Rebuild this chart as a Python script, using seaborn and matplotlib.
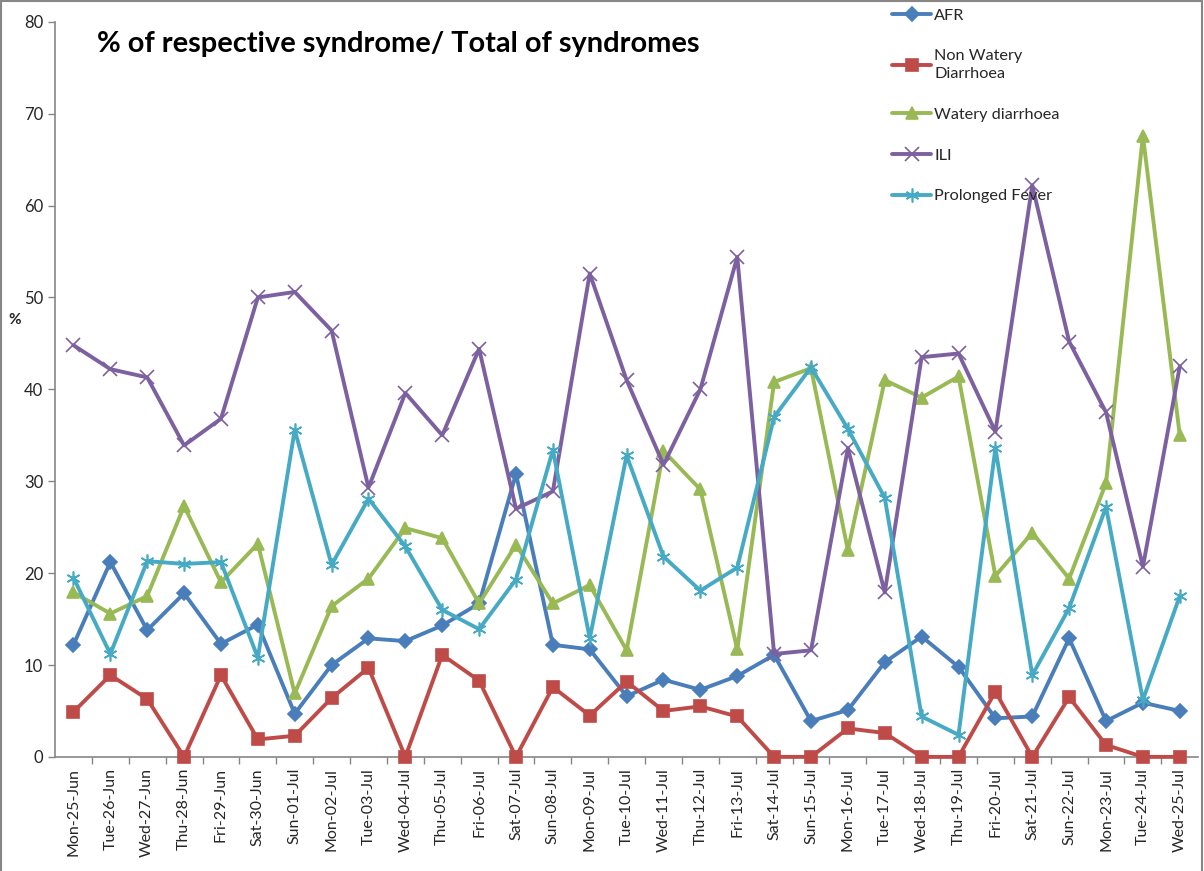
import pandas as pd
import matplotlib.pyplot as plt
import seaborn as sns
from matplotlib.lines import Line2D

days = ["Mon-25-Jun", "Tue-26-Jun", "Wed-27-Jun", "Thu-28-Jun", "Fri-29-Jun", "Sat-30-Jun",
        "Sun-01-Jul", "Mon-02-Jul", "Tue-03-Jul", "Wed-04-Jul", "Thu-05-Jul", "Fri-06-Jul",
        "Sat-07-Jul", "Sun-08-Jul", "Mon-09-Jul", "Tue-10-Jul", "Wed-11-Jul", "Thu-12-Jul",
        "Fri-13-Jul", "Sat-14-Jul", "Sun-15-Jul", "Mon-16-Jul", "Tue-17-Jul", "Wed-18-Jul",
        "Thu-19-Jul", "Fri-20-Jul", "Sat-21-Jul", "Sun-22-Jul", "Mon-23-Jul", "Tue-24-Jul",
        "Wed-25-Jul"]

afr = [12.2, 21.2, 13.8, 17.8, 12.3, 14.4, 4.7, 10.0, 12.9, 12.6, 14.3, 16.7, 30.8, 12.2, 11.7, 6.6,
       8.4, 7.3, 8.8, 11.1, 3.9, 5.1, 10.3, 13.1, 9.8, 4.2, 4.4, 12.9, 3.9, 5.9, 5.0]
non_watery = [4.9, 8.9, 6.3, 0, 8.9, 1.9, 2.3, 6.4, 9.7, 0, 11.1, 8.3, 0, 7.6, 4.5, 8.2,
              5.0, 5.5, 4.4, 0, 0, 3.1, 2.6, 0, 0, 7.1, 0, 6.5, 1.3, 0, 0]
watery = [17.9, 15.6, 17.5, 27.3, 19.0, 23.2, 6.9, 16.4, 19.4, 24.9, 23.8, 16.7, 23.1, 16.7, 18.7, 11.6,
          33.3, 29.1, 11.7, 40.8, 42.3, 22.5, 41.0, 39.1, 41.4, 19.7, 24.4, 19.4, 29.8, 67.6, 35.0]
ili = [44.8, 42.2, 41.3, 33.9, 36.8, 50.0, 50.6, 46.4, 29.3, 39.6, 35.0, 44.4, 27.0, 28.9, 52.6, 41.0,
       31.8, 40.0, 54.4, 11.2, 11.6, 33.6, 17.9, 43.5, 43.9, 35.4, 62.2, 45.2, 37.5, 20.7, 42.5]
prolonged_fever = [19.5, 11.2, 21.3, 21.0, 21.2, 10.8, 35.6, 20.9, 28.1, 22.9, 16.0, 13.9, 19.3, 33.4, 12.9, 32.8,
                   21.8, 18.1, 20.6, 37.0, 42.4, 35.7, 28.2, 4.4, 2.4, 33.6, 8.9, 16.2, 27.2, 6.2, 17.5]

series = ["AFR", "Non Watery\nDiarrhoea", "Watery diarrhoea", "ILI", "Prolonged Fever"]
values = [afr, non_watery, watery, ili, prolonged_fever]
colors = ["#4A7EBB", "#BE4B48", "#98B954", "#7D60A0", "#46AAC5"]
markers = ["D", "s", "^", "x", (6, 2, 0)]
msizes = [7, 9, 9, 10, 10]

sns.set_theme(style="white")
plt.rcParams["font.family"] = ["Lato", "DejaVu Sans"]

fig = plt.figure(figsize=(12.04, 8.71), dpi=100)
ax = fig.add_axes([0.0457, 0.131, 0.9495, 0.844])

pos = list(range(len(days)))
for name, vals, c, m, ms in zip(series, values, colors, markers, msizes):
    df = pd.DataFrame({"pos": pos, "val": vals})
    sns.lineplot(data=df, x="pos", y="val", ax=ax, color=c, linewidth=2.8,
                 marker=m, markersize=ms, markeredgecolor=c, markerfacecolor=c,
                 markeredgewidth=1.2, sort=False, label=name, clip_on=False, zorder=3)

ax.set_xlim(-0.5, len(days) - 0.5)
ax.set_ylim(0, 80)
ax.set_yticks(range(0, 81, 10))
ax.set_xticks(pos)
ax.set_xticklabels(days, rotation=90, fontsize=11.5)
ax.set_xticks([p + 0.5 for p in pos[:-1]], minor=True)
ax.tick_params(axis="x", which="major", length=0, pad=8)
ax.tick_params(axis="x", which="minor", length=5, width=1, color="#868686", direction="out", bottom=True)
ax.tick_params(axis="y", length=5, width=1, color="#868686", direction="out", left=True, labelsize=12)
ax.set_xlabel("")
ax.set_ylabel("%", rotation=0, fontsize=11, fontweight="bold")
ax.yaxis.set_label_coords(-0.035, 0.585)

for side in ["top", "right"]:
    ax.spines[side].set_visible(False)
for side in ["left", "bottom"]:
    ax.spines[side].set_color("#868686")
    ax.spines[side].set_linewidth(1.2)

ax.text(0.037, 0.97, "% of respective syndrome/ Total of syndromes", transform=ax.transAxes,
        fontsize=20.9, fontweight="bold", color="black", va="center", ha="left")

leg = ax.legend(loc="upper left", bbox_to_anchor=(0.741, 0.99), bbox_transform=fig.transFigure,
                frameon=False, fontsize=11.7, handlelength=2.4, handletextpad=0.2,
                labelspacing=1.62, borderpad=0, borderaxespad=0)
for t in leg.get_texts():
    t.set_linespacing(1.35)

# chart border
for xs, ys in [([0.001, 0.001], [0, 0.999]), ([0.001, 0.998], [0.999, 0.999]), ([0.998, 0.998], [0, 0.999])]:
    fig.add_artist(Line2D(xs, ys, transform=fig.transFigure, color="#868686", linewidth=1.5))

fig.savefig("out.png", dpi=100)
plt.close(fig)
